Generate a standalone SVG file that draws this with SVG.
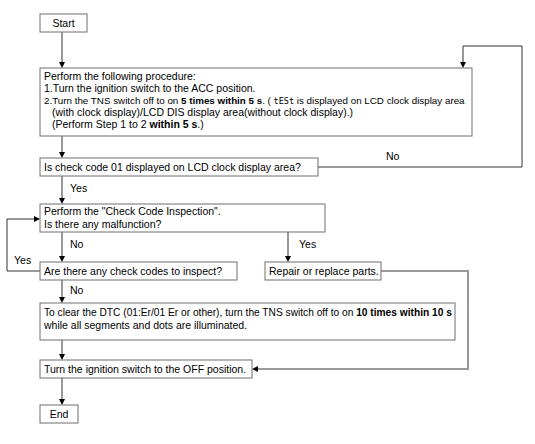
<svg xmlns="http://www.w3.org/2000/svg" width="535" height="444" viewBox="0 0 535 444">
<style>
text{font-family:"Liberation Sans",Arial,sans-serif;font-size:10.5px;fill:#000}
.b{font-weight:bold}
.box{fill:#fff;stroke:#6e6e6e;stroke-width:1}
.sp{fill:none;stroke:#9a9a9a;stroke-width:2}
.dk{fill:none;stroke:#333;stroke-width:1}
.lcd{font-family:"DejaVu Sans Mono",monospace;font-size:8.5px}
</style>
<g id="connectors">
<path class="sp" d="M62,32 V62"/><path d="M59,62 L65,62 L62,68 Z"/>
<path class="sp" d="M62,136 V152"/><path d="M59,152 L65,152 L62,158 Z"/>
<path class="sp" d="M62,176 V198"/><path d="M59,198 L65,198 L62,204 Z"/>
<path class="sp" d="M62,232 V256"/><path d="M59,256 L65,256 L62,262 Z"/>
<path class="sp" d="M62,280 V297"/><path d="M59,297 L65,297 L62,303 Z"/>
<path class="sp" d="M62,340 V354"/><path d="M59,354 L65,354 L62,360 Z"/>
<path class="sp" d="M62,378 V399"/><path d="M59,399 L65,399 L62,405 Z"/>
<path class="dk" d="M318,167 H522 V46 H463 V62"/><path d="M460,62 L466,62 L463,68 Z"/>
<path class="dk" d="M288,232 V256"/><path d="M285,256 L291,256 L288,262 Z"/>
<path class="dk" d="M40,271 H7 V219 H34"/><path d="M34,216 L34,222 L40,219 Z"/>
<path class="sp" d="M381,271 H468 V369 H258"/><path d="M258,366 L258,372 L252,369 Z"/>
<text x="386" y="160">No</text>
<text x="70" y="192">Yes</text>
<text x="70" y="248">No</text>
<text x="299" y="248">Yes</text>
<text x="14" y="264">Yes</text>
<text x="70" y="294">No</text>
</g>
<g id="start"><rect class="box" x="40" y="14" width="47" height="18"/><text x="63.5" y="27" text-anchor="middle">Start</text></g>
<g id="procedure"><rect class="box" x="40" y="68" width="432" height="68"/>
<text x="44" y="80">Perform the following procedure:</text>
<text x="44" y="92">1.Turn the ignition switch to the ACC position.</text>
<text x="44" y="104" style="font-size:9.8px">2.Turn the TNS switch off to on <tspan class="b">5 times within 5 s</tspan>. ( <tspan class="lcd">tESt</tspan> is displayed on LCD clock display area</text>
<text x="52" y="116">(with clock display)/LCD DIS display area(without clock display).)</text>
<text x="52" y="128">(Perform Step 1 to 2 <tspan class="b">within 5 s</tspan>.)</text>
</g>
<g id="check01"><rect class="box" x="40" y="158" width="278" height="18"/><text x="44" y="171">Is check code 01 displayed on LCD clock display area?</text></g>
<g id="inspection"><rect class="box" x="40" y="204" width="285" height="28"/><text x="44" y="215">Perform the "Check Code Inspection".</text><text x="44" y="228">Is there any malfunction?</text></g>
<g id="anycodes"><rect class="box" x="40" y="262" width="197" height="18"/><text x="44" y="275">Are there any check codes to inspect?</text></g>
<g id="repair"><rect class="box" x="265" y="262" width="116" height="18"/><text x="269" y="275">Repair or replace parts.</text></g>
<g id="clear"><rect class="box" x="40" y="303" width="415" height="37"/><text x="44" y="316" style="font-size:10.2px">To clear the DTC (01:Er/01 Er or other), turn the TNS switch off to on <tspan class="b">10 times within 10 s</tspan></text><text x="44" y="329">while all segments and dots are illuminated.</text></g>
<g id="off"><rect class="box" x="40" y="360" width="212" height="18"/><text x="44" y="373">Turn the ignition switch to the OFF position.</text></g>
<g id="end"><rect class="box" x="40" y="405" width="38" height="18"/><text x="59" y="418" text-anchor="middle">End</text></g>
</svg>
